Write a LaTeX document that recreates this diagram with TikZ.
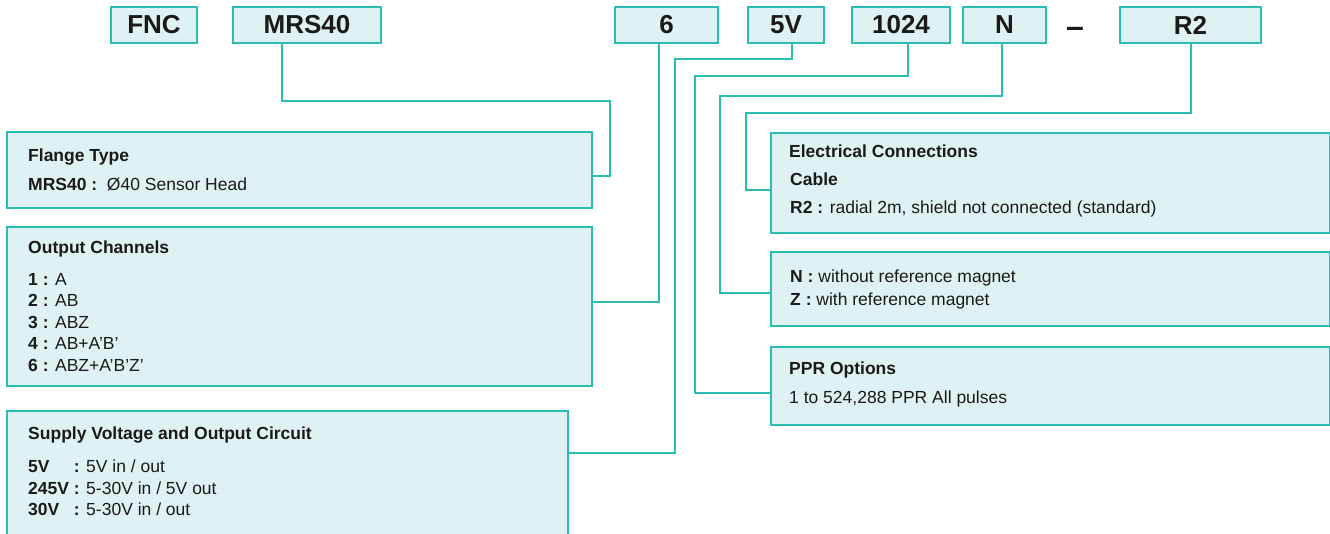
\documentclass[tikz,border=0pt]{standalone}
\usepackage{fontspec}
\setmainfont{Liberation Sans}
\definecolor{tealb}{HTML}{2CBDB2}
\definecolor{boxfill}{HTML}{E0F1F4}
\definecolor{ink}{HTML}{1A1A1A}
\newcommand\padlbl[1]{\rlap{\textbf{#1}}\hphantom{\textbf{245V}}\textbf{ :}}
\begin{document}
\begin{tikzpicture}[x=1pt,y=-1pt,
  box/.style={draw=tealb, fill=boxfill, line width=2pt, inner sep=0pt, anchor=north west},
  code/.style={box, font=\fontsize{26}{30}\selectfont\bfseries, text=ink},
  conn/.style={draw=tealb, line width=2pt},
  txt/.style={anchor=base west, inner sep=0pt, font=\fontsize{17.5}{21}\selectfont, text=ink}]
\useasboundingbox (0,0) rectangle (1330,533);
% code boxes
\node[code, minimum width=86pt, minimum height=36pt] (fnc) at (110,6) {FNC};
\node[code, minimum width=148pt, minimum height=36pt] (mrs) at (232,6) {MRS40};
\node[code, minimum width=103pt, minimum height=36pt] (six) at (614,6) {6};
\node[code, minimum width=76pt, minimum height=36pt] (fivev) at (747,6) {5V};
\node[code, minimum width=98pt, minimum height=36pt] (pulses) at (851,6) {1024};
\node[code, minimum width=83pt, minimum height=36pt] (nbox) at (962,6) {N};
\node[inner sep=0pt, font=\fontsize{32}{36}\selectfont\bfseries, text=ink] (dash) at (1075,32.5) {–};
\node[code, minimum width=141pt, minimum height=36pt] (r2) at (1119,6) {R2};
% description boxes
\node[box, minimum width=585pt, minimum height=76pt] (flange) at (6,131) {};
\node[box, minimum width=585pt, minimum height=158.5pt] (output) at (6,226) {};
\node[box, minimum width=560.5pt, minimum height=150pt] (supply) at (6,410) {};
\node[box, minimum width=558.5pt, minimum height=100pt] (elec) at (770,131.5) {};
\node[box, minimum width=558.5pt, minimum height=73.5pt] (nmag) at (770,251) {};
\node[box, minimum width=558.5pt, minimum height=78pt] (ppr) at (770,346) {};
% texts
\node[txt] (t1) at (28,161) {\textbf{Flange Type}};
\node[txt] (t2) at (28,190) {\textbf{MRS40 :}\ \ Ø40 Sensor Head};
\node[txt] (t3) at (28,253.7) {\textbf{Output Channels}};
\node[txt] (t4) at (28,285) {\textbf{1 :} A};
\node[txt] (t5) at (28,306.7) {\textbf{2 :} AB};
\node[txt] (t6) at (28,328) {\textbf{3 :} ABZ};
\node[txt] (t7) at (28,349.7) {\textbf{4 :} AB+A’B’};
\node[txt] (t8) at (28,371) {\textbf{6 :} ABZ+A’B’Z’};
\node[txt] (t9) at (28,439) {\textbf{Supply Voltage and Output Circuit}};
\node[txt] (t10) at (28,472.7) {\padlbl{5V} 5V in / out};
\node[txt] (t11) at (28,494) {\padlbl{245V} 5-30V in / 5V out};
\node[txt] (t12) at (28,515) {\padlbl{30V} 5-30V in / out};
\node[txt] (t13) at (789,157.7) {\textbf{Electrical Connections}};
\node[txt] (t14) at (790,185) {\textbf{Cable}};
\node[txt] (t15) at (790,213.7) {\textbf{R2 :} radial 2m, shield not connected (standard)};
\node[txt] (t16) at (790,282.7) {\textbf{N :} without reference magnet};
\node[txt] (t17) at (790,305) {\textbf{Z :} with reference magnet};
\node[txt] (t18) at (789,374) {\textbf{PPR Options}};
\node[txt] (t19) at (789,403) {1 to 524,288 PPR All pulses};
% connectors
\draw[conn] ([xshift=-25pt]mrs.south) |- (610,100.5) |- ([yshift=-6pt]flange.east);
\draw[conn] ([xshift=-7.5pt]six.south) |- ([yshift=4.5pt]output.east);
\draw[conn] ([xshift=5.5pt]fivev.south) |- (675,59.3) |- ([yshift=33pt]supply.east);
\draw[conn] ([xshift=7pt]pulses.south) |- (695,75.7) |- ([yshift=-7pt]ppr.west);
\draw[conn] ([xshift=-3pt]nbox.south) |- (719.5,96) |- ([yshift=-4.5pt]nmag.west);
\draw[conn] (r2.south) |- (746,113) |- ([yshift=-7.7pt]elec.west);
\end{tikzpicture}
\end{document}
